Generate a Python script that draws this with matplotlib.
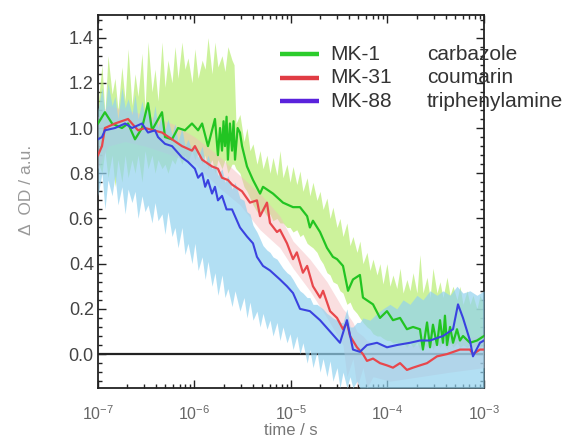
"""
Transient absorption decay of three MK dyes
raw traces as light bands, smoothed traces as solid lines
"""

import numpy as np
import matplotlib
matplotlib.use("Agg")
import matplotlib.pyplot as plt

plt.rcParams['font.family'] = ['Liberation Sans', 'DejaVu Sans']
plt.rcParams['mathtext.fontset'] = 'custom'
plt.rcParams['mathtext.rm'] = 'Liberation Sans'
plt.rcParams['mathtext.it'] = 'Liberation Sans:italic'
plt.rcParams['mathtext.bf'] = 'Liberation Sans:bold'

# ============================================
# DATA
# ============================================
dyes = ['MK-1', 'MK-31', 'MK-88']
donors = ['carbazole', 'coumarin', 'triphenylamine']

# --- MK-1 (smoothed) ---
t_mk1 = [1.00e-7, 1.18e-7, 1.40e-7, 1.77e-7, 2.05e-7, 2.42e-7, 2.86e-7, 3.30e-7,
         3.63e-7, 4.61e-7, 4.95e-7, 5.85e-7, 6.75e-7, 7.97e-7, 9.42e-7, 1.09e-6,
         1.20e-6, 1.38e-6, 1.52e-6, 1.63e-6, 1.75e-6, 1.84e-6, 1.93e-6, 2.00e-6,
         2.07e-6, 2.15e-6, 2.22e-6, 2.33e-6, 2.45e-6, 2.54e-6, 2.63e-6, 2.80e-6,
         2.96e-6, 3.11e-6, 3.50e-6, 3.76e-6, 4.04e-6, 4.78e-6, 5.13e-6, 6.51e-6,
         8.26e-6, 1.05e-5, 1.24e-5, 1.47e-5, 1.57e-5, 1.69e-5, 2.00e-5, 2.36e-5,
         2.72e-5, 3.00e-5, 3.46e-5, 3.90e-5, 4.39e-5, 5.18e-5, 5.57e-5, 7.08e-5,
         8.36e-5, 9.88e-5, 1.14e-4, 1.35e-4, 1.59e-4, 1.84e-4, 2.17e-4, 2.33e-4,
         2.57e-4, 2.76e-4, 2.96e-4, 3.26e-4, 3.50e-4, 3.76e-4, 3.94e-4, 4.14e-4,
         4.45e-4, 4.78e-4, 5.25e-4, 5.64e-4, 6.06e-4, 7.16e-4, 8.46e-4, 1.00e-3]
od_mk1 = [1.02, 1.07, 1.02, 1.00, 1.02, 0.95, 1.00, 1.11,
          0.99, 1.07, 0.96, 0.95, 1.00, 0.99, 1.02, 0.99,
          1.02, 0.92, 0.99, 1.04, 0.88, 1.00, 0.90, 1.03,
          0.92, 1.05, 0.86, 1.02, 0.90, 1.03, 0.86, 1.00,
          0.98, 0.92, 0.83, 0.80, 0.77, 0.71, 0.74, 0.71,
          0.67, 0.65, 0.65, 0.61, 0.56, 0.59, 0.54, 0.47,
          0.43, 0.42, 0.39, 0.28, 0.33, 0.35, 0.25, 0.22,
          0.16, 0.19, 0.15, 0.16, 0.11, 0.12, 0.11, 0.02,
          0.14, 0.03, 0.13, 0.04, 0.15, 0.05, 0.17, 0.04,
          0.12, 0.05, 0.11, 0.06, 0.08, 0.05, 0.06, 0.08]

# --- MK-31 (smoothed) ---
t_mk31 = [1.00e-7, 1.10e-7, 1.18e-7, 1.50e-7, 2.05e-7, 2.25e-7, 2.60e-7, 3.07e-7,
          4.61e-7, 5.85e-7, 7.42e-7, 9.42e-7, 1.01e-6, 1.20e-6, 1.52e-6, 1.75e-6,
          1.93e-6, 2.22e-6, 2.45e-6, 3.11e-6, 3.76e-6, 4.44e-6, 4.78e-6, 5.64e-6,
          6.06e-6, 7.16e-6, 7.69e-6, 9.09e-6, 1.05e-5, 1.15e-5, 1.33e-5, 1.47e-5,
          1.69e-5, 2.00e-5, 2.15e-5, 2.54e-5, 3.00e-5, 3.46e-5, 3.80e-5, 4.09e-5,
          4.83e-5, 5.57e-5, 6.13e-5, 7.08e-5, 8.36e-5, 9.88e-5, 1.14e-4, 1.35e-4,
          1.59e-4, 1.84e-4, 2.17e-4, 2.57e-4, 3.26e-4, 4.14e-4, 5.64e-4, 7.16e-4,
          7.69e-4, 9.09e-4, 1.00e-3]
od_mk31 = [0.88, 0.92, 1.00, 1.02, 1.04, 1.02, 0.99, 1.00,
           0.98, 0.95, 0.92, 0.90, 0.92, 0.86, 0.83, 0.82,
           0.78, 0.77, 0.75, 0.72, 0.67, 0.68, 0.61, 0.67,
           0.58, 0.54, 0.55, 0.49, 0.42, 0.45, 0.36, 0.39,
           0.30, 0.25, 0.28, 0.19, 0.16, 0.11, 0.14, 0.08,
           0.03, 0.00, -0.03, -0.02, -0.04, -0.05, -0.06, -0.04,
           -0.07, -0.06, -0.05, -0.04, -0.01, 0.00, 0.02, 0.02,
           0.00, 0.02, 0.02]

# --- MK-88 (smoothed) ---
t_mk88 = [1.00e-7, 1.10e-7, 1.18e-7, 1.50e-7, 1.91e-7, 2.25e-7, 2.86e-7, 3.30e-7,
          3.90e-7, 4.19e-7, 4.95e-7, 5.85e-7, 7.42e-7, 8.57e-7, 1.01e-6, 1.09e-6,
          1.20e-6, 1.29e-6, 1.38e-6, 1.52e-6, 1.63e-6, 1.75e-6, 1.93e-6, 2.15e-6,
          2.45e-6, 2.96e-6, 3.50e-6, 4.04e-6, 4.44e-6, 5.13e-6, 6.06e-6, 7.69e-6,
          9.09e-6, 1.05e-5, 1.24e-5, 1.57e-5, 2.00e-5, 2.54e-5, 3.22e-5, 3.80e-5,
          4.39e-5, 5.18e-5, 6.13e-5, 7.79e-5, 9.88e-5, 1.25e-4, 1.71e-4, 2.17e-4,
          2.76e-4, 3.76e-4, 4.78e-4, 5.38e-4, 6.06e-4, 7.16e-4, 7.69e-4, 9.09e-4,
          1.00e-3]
od_mk88 = [0.95, 0.96, 0.99, 1.00, 1.02, 1.00, 1.02, 0.98,
           0.99, 0.96, 0.93, 0.92, 0.87, 0.85, 0.82, 0.78,
           0.80, 0.74, 0.77, 0.71, 0.74, 0.68, 0.70, 0.64,
           0.64, 0.56, 0.52, 0.49, 0.43, 0.39, 0.37, 0.33,
           0.30, 0.27, 0.20, 0.19, 0.15, 0.10, 0.05, 0.15,
           0.02, 0.01, 0.04, 0.05, 0.03, 0.04, 0.05, 0.06,
           0.06, 0.08, 0.11, 0.22, 0.16, 0.06, -0.01, 0.05,
           0.06]

# --- raw MK-1 spread (upper / lower envelope) ---
t_raw1 = [1.00e-7, 1.10e-7, 1.18e-7, 1.27e-7, 1.40e-7, 1.50e-7, 1.61e-7, 1.77e-7,
          1.91e-7, 2.05e-7, 2.25e-7, 2.42e-7, 2.60e-7, 2.86e-7, 3.07e-7, 3.30e-7,
          3.63e-7, 3.90e-7, 4.19e-7, 4.61e-7, 4.95e-7, 5.31e-7, 5.85e-7, 6.28e-7,
          6.75e-7, 7.42e-7, 7.97e-7, 8.57e-7, 9.42e-7, 1.01e-6, 1.09e-6, 1.20e-6,
          1.29e-6, 1.38e-6, 1.52e-6, 1.63e-6, 1.75e-6, 1.93e-6, 2.07e-6, 2.22e-6,
          2.45e-6, 2.57e-6, 2.69e-6, 2.96e-6, 3.26e-6, 3.50e-6, 3.76e-6, 4.04e-6,
          4.44e-6, 4.78e-6, 5.13e-6, 5.64e-6, 6.06e-6, 6.51e-6, 7.16e-6, 7.69e-6,
          8.26e-6, 9.09e-6, 9.78e-6, 1.05e-5, 1.15e-5, 1.24e-5, 1.33e-5, 1.47e-5,
          1.57e-5, 1.69e-5, 1.86e-5, 2.00e-5, 2.15e-5, 2.36e-5, 2.54e-5, 2.72e-5,
          3.00e-5, 3.22e-5, 3.46e-5, 3.80e-5, 4.09e-5, 4.39e-5, 4.83e-5, 5.18e-5,
          5.57e-5, 6.13e-5, 6.59e-5, 7.08e-5, 7.79e-5, 8.36e-5, 8.98e-5, 9.88e-5,
          1.06e-4, 1.14e-4, 1.25e-4, 1.35e-4, 1.45e-4, 1.59e-4, 1.71e-4, 1.84e-4,
          2.02e-4, 2.17e-4, 2.33e-4, 2.57e-4, 2.76e-4, 2.96e-4, 3.26e-4, 3.50e-4,
          3.76e-4, 4.14e-4, 4.45e-4, 4.78e-4, 5.25e-4, 5.64e-4, 6.06e-4, 6.67e-4,
          7.16e-4, 7.69e-4, 8.46e-4, 9.09e-4, 1.00e-3]
hi_raw1 = [1.10, 1.28, 1.06, 1.32, 1.15, 1.22, 1.08, 1.27,
           1.12, 1.35, 1.10, 1.24, 1.14, 1.33, 1.08, 1.38,
           1.16, 1.26, 1.12, 1.38, 1.18, 1.30, 1.20, 1.36,
           1.22, 1.38, 1.26, 1.31, 1.20, 1.35, 1.22, 1.30,
           1.26, 1.40, 1.24, 1.38, 1.27, 1.32, 1.25, 1.36,
           1.30, 1.28, 1.02, 1.06, 0.94, 1.00, 0.90, 0.93,
           0.84, 0.90, 0.82, 0.88, 0.80, 0.87, 0.79, 0.90,
           0.78, 0.84, 0.76, 0.83, 0.75, 0.81, 0.72, 0.78,
           0.70, 0.76, 0.68, 0.72, 0.64, 0.69, 0.60, 0.65,
           0.56, 0.60, 0.52, 0.58, 0.48, 0.52, 0.45, 0.50,
           0.40, 0.45, 0.37, 0.42, 0.35, 0.40, 0.31, 0.40,
           0.30, 0.35, 0.29, 0.38, 0.27, 0.33, 0.28, 0.36,
           0.27, 0.44, 0.27, 0.34, 0.25, 0.38, 0.27, 0.32,
           0.25, 0.34, 0.26, 0.30, 0.24, 0.30, 0.22, 0.28,
           0.22, 0.26, 0.20, 0.26, 0.22]
lo_raw1 = [0.85, 0.80, 0.90, 0.78, 0.88, 0.74, 0.86, 0.76,
           0.88, 0.78, 0.86, 0.80, 0.88, 0.76, 0.90, 0.82,
           0.88, 0.80, 0.86, 0.82, 0.84, 0.80, 0.86, 0.84,
           0.88, 0.84, 0.88, 0.85, 0.90, 0.86, 0.90, 0.84,
           0.88, 0.82, 0.86, 0.80, 0.86, 0.82, 0.86, 0.80,
           0.84, 0.84, 0.82, 0.80, 0.74, 0.72, 0.69, 0.66,
           0.63, 0.62, 0.64, 0.61, 0.62, 0.59, 0.60, 0.58,
           0.58, 0.56, 0.56, 0.54, 0.55, 0.52, 0.53, 0.49,
           0.48, 0.47, 0.45, 0.42, 0.40, 0.36, 0.35, 0.32,
           0.31, 0.28, 0.27, 0.22, 0.23, 0.20, 0.18, 0.16,
           0.14, 0.12, 0.11, 0.09, 0.08, 0.08, 0.07, 0.06,
           0.06, 0.05, 0.05, 0.04, 0.05, 0.03, 0.05, 0.03,
           0.05, 0.02, 0.05, 0.03, 0.05, 0.02, 0.05, 0.03,
           0.05, 0.02, 0.05, 0.03, 0.05, 0.03, 0.04, 0.03,
           0.04, 0.03, 0.04, 0.03, 0.04]

# --- raw MK-31 spread ---
t_raw31 = [1.00e-7, 1.27e-7, 1.91e-7, 3.07e-7, 5.85e-7, 1.01e-6, 1.75e-6, 2.96e-6,
           4.78e-6, 7.69e-6, 1.05e-5, 1.57e-5, 2.36e-5, 3.46e-5, 3.80e-5, 4.39e-5,
           4.83e-5, 5.57e-5, 6.13e-5, 7.08e-5, 1.06e-4, 2.17e-4, 4.45e-4, 1.00e-3]
hi_raw31 = [1.05, 1.10, 1.08, 1.06, 1.02, 0.96, 0.88, 0.79,
            0.71, 0.61, 0.50, 0.42, 0.32, 0.20, 0.18, 0.14,
            0.10, 0.08, 0.06, 0.05, 0.04, 0.04, 0.07, 0.08]
lo_raw31 = [0.82, 0.92, 0.94, 0.92, 0.88, 0.84, 0.74, 0.66,
            0.55, 0.47, 0.38, 0.28, 0.16, 0.04, -0.10, -0.02,
            -0.15, -0.06, -0.15, -0.10, -0.12, -0.10, -0.08, -0.06]

# --- raw MK-88 spread ---
t_raw88 = [1.00e-7, 1.10e-7, 1.18e-7, 1.27e-7, 1.40e-7, 1.50e-7, 1.61e-7, 1.77e-7,
           1.91e-7, 2.05e-7, 2.25e-7, 2.42e-7, 2.60e-7, 2.86e-7, 3.07e-7, 3.30e-7,
           3.63e-7, 3.90e-7, 4.19e-7, 4.61e-7, 4.95e-7, 5.31e-7, 5.85e-7, 6.28e-7,
           6.75e-7, 7.42e-7, 7.97e-7, 8.57e-7, 9.42e-7, 1.01e-6, 1.09e-6, 1.20e-6,
           1.29e-6, 1.38e-6, 1.52e-6, 1.63e-6, 1.75e-6, 1.93e-6, 2.07e-6, 2.22e-6,
           2.45e-6, 2.63e-6, 2.96e-6, 3.26e-6, 3.50e-6, 3.76e-6, 4.04e-6, 4.44e-6,
           4.78e-6, 5.13e-6, 5.64e-6, 6.06e-6, 6.51e-6, 7.16e-6, 7.69e-6, 8.26e-6,
           9.09e-6, 9.78e-6, 1.05e-5, 1.15e-5, 1.24e-5, 1.33e-5, 1.47e-5, 1.57e-5,
           1.69e-5, 1.86e-5, 2.00e-5, 2.15e-5, 2.36e-5, 2.54e-5, 2.72e-5, 3.00e-5,
           3.22e-5, 3.46e-5, 3.80e-5, 4.09e-5, 4.39e-5, 4.83e-5, 5.18e-5, 5.57e-5,
           6.59e-5, 7.79e-5, 8.98e-5, 1.06e-4, 1.25e-4, 1.45e-4, 1.71e-4, 2.02e-4,
           2.33e-4, 2.76e-4, 3.26e-4, 3.76e-4, 4.45e-4, 5.25e-4, 6.06e-4, 7.16e-4,
           8.46e-4, 1.00e-3]
hi_raw88 = [1.08, 1.18, 1.06, 1.20, 1.10, 1.14, 1.04, 1.18,
            1.09, 1.13, 1.06, 1.15, 1.04, 1.12, 1.05, 1.10,
            1.02, 1.10, 1.00, 1.07, 0.99, 1.04, 0.97, 1.02,
            0.94, 1.00, 0.92, 0.95, 0.90, 0.93, 0.87, 0.92,
            0.84, 0.88, 0.82, 0.84, 0.79, 0.82, 0.76, 0.79,
            0.73, 0.76, 0.69, 0.68, 0.63, 0.62, 0.57, 0.54,
            0.51, 0.48, 0.46, 0.45, 0.43, 0.42, 0.40, 0.38,
            0.36, 0.35, 0.33, 0.30, 0.28, 0.27, 0.25, 0.25,
            0.22, 0.22, 0.21, 0.20, 0.18, 0.17, 0.16, 0.15,
            0.14, 0.14, 0.20, 0.12, 0.12, 0.14, 0.14, 0.16,
            0.15, 0.18, 0.20, 0.22, 0.20, 0.24, 0.22, 0.26,
            0.24, 0.28, 0.26, 0.28, 0.26, 0.30, 0.27, 0.28,
            0.26, 0.28]
lo_raw88 = [0.70, 0.80, 0.64, 0.77, 0.70, 0.79, 0.66, 0.74,
            0.62, 0.73, 0.67, 0.72, 0.60, 0.70, 0.63, 0.66,
            0.58, 0.67, 0.59, 0.62, 0.53, 0.63, 0.52, 0.56,
            0.47, 0.56, 0.44, 0.49, 0.40, 0.49, 0.37, 0.43,
            0.33, 0.41, 0.30, 0.36, 0.26, 0.35, 0.25, 0.29,
            0.21, 0.28, 0.19, 0.25, 0.16, 0.23, 0.15, 0.19,
            0.12, 0.18, 0.11, 0.15, 0.08, 0.14, 0.06, 0.12,
            0.05, 0.09, 0.02, 0.08, 0.00, 0.05, -0.04, 0.02,
            -0.06, 0.01, -0.08, -0.02, -0.10, -0.03, -0.12, -0.06,
            -0.15, -0.08, -0.15, -0.10, -0.15, -0.12, -0.15, -0.15,
            -0.15, -0.15, -0.15, -0.15, -0.15, -0.15, -0.15, -0.15,
            -0.15, -0.15, -0.15, -0.15, -0.15, -0.15, -0.15, -0.15,
            -0.15, -0.15]

# colours: (solid line, raw band)
line_colors = ['#22c422', '#e8474c', '#3a42e0']
band_colors = ['#bcee7a', '#f4b8bc', '#92d2ef']
legend_colors = ['#2ccc2c', '#e03c44', '#5a22dc']


# ============================================
# PLOT
# ============================================
def plot_decays():
    fig = plt.figure(figsize=(5.75, 4.45), dpi=100)
    ax = fig.add_axes([0.1704, 0.1281, 0.6713, 0.8382])

    # zero line sits under everything
    ax.axhline(0, color='#222222', lw=1.6, zorder=1)

    # raw data spread
    ax.fill_between(t_raw1, lo_raw1, hi_raw1, color=band_colors[0], lw=0,
                    alpha=0.75, zorder=2)
    ax.fill_between(t_raw31, lo_raw31, hi_raw31, color=band_colors[1], lw=0,
                    alpha=0.45, zorder=3)
    ax.fill_between(t_raw88, lo_raw88, hi_raw88, color=band_colors[2], lw=0,
                    alpha=0.7, zorder=4)

    # smoothed traces
    ax.plot(t_mk1, od_mk1, color=line_colors[0], lw=1.6, zorder=6)
    ax.plot(t_mk31, od_mk31, color=line_colors[1], lw=1.6, zorder=7)
    ax.plot(t_mk88, od_mk88, color=line_colors[2], lw=1.5, zorder=8)

    ax.set_xscale('log')
    ax.set_xlim(1e-7, 1e-3)
    ax.set_ylim(-0.15, 1.50)
    ax.set_yticks(np.arange(0, 1.41, 0.2))
    ax.set_yticks(np.arange(-0.12, 1.50, 0.04), minor=True)
    ax.yaxis.set_major_formatter(plt.FormatStrFormatter('%.1f'))

    ax.tick_params(which='both', direction='in', top=True, right=True,
                   color='#222222', width=1.0)
    ax.tick_params(which='major', length=6)
    ax.tick_params(which='minor', length=3)
    ax.tick_params(axis='y', labelsize=13, labelcolor='#444444', pad=3)
    ax.tick_params(axis='x', labelsize=11.5, labelcolor='#666666', pad=12)

    for sp in ax.spines.values():
        sp.set_color('#222222')
        sp.set_linewidth(1.3)

    ax.set_xlabel('time / s', fontsize=12, color='#777777')
    ax.xaxis.set_label_coords(0.5, -0.095)
    ax.set_ylabel('\u0394  OD / a.u.', fontsize=12.5, color='#999999')
    ax.yaxis.set_label_coords(-0.165, 0.53)

    # hand-built legend: line, dye name, donor group
    rows = [0.8954, 0.8311, 0.7694]
    for i in range(3):
        ax.plot([0.4715, 0.5725], [rows[i], rows[i]], transform=ax.transAxes,
                color=legend_colors[i], lw=3.2, solid_capstyle='butt',
                clip_on=False, zorder=10)
        ax.text(0.601, rows[i], dyes[i], transform=ax.transAxes, fontsize=15,
                color='#333333', va='center', ha='left', zorder=10)
        ax.text(0.852, rows[i], donors[i], transform=ax.transAxes, fontsize=15,
                color='#333333', va='center', ha='left', zorder=10)

    fig.savefig('out.png', dpi=100)


if __name__ == "__main__":
    plot_decays()
